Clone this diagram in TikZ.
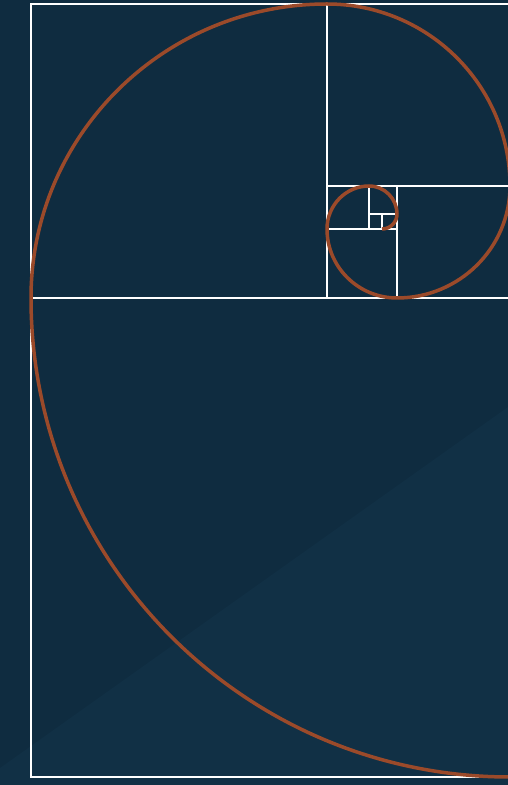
\documentclass[tikz,border=0pt]{standalone}
\definecolor{bgdark}{RGB}{15,44,64}
\definecolor{bglight}{RGB}{17,48,69}
\definecolor{spiral}{RGB}{155,74,42}
\tikzset{
  frame/.style={draw=white, line width=2.4pt},
  spiralline/.style={draw=spiral, line width=3.5pt},
}
\begin{document}
\begin{tikzpicture}[x=1pt,y=1pt]
\useasboundingbox (0,0) rectangle (508,785);
\fill[bgdark] (0,0) rectangle (508,785);
\fill[bglight] (0,0) -- (0,17) -- (508,378) -- (508,0) -- cycle;
\begin{scope}
\clip (0,0) rectangle (508,785);
% frame lines
\draw[frame] (31,8) rectangle (510,781);
\draw[frame] (31,487) -- (510,487);
\draw[frame] (327,781) -- (327,487);
\draw[frame] (327,599) -- (510,599);
\draw[frame] (397,599) -- (397,487);
\draw[frame] (327,556) -- (397,556);
\draw[frame] (369,599) -- (369,556);
\draw[frame] (369,571) -- (397,571);
\draw[frame] (382,571) -- (382,556);
% spiral
\draw[spiralline, line join=round]
  (510,8) arc[start angle=270, end angle=180, radius=479]
  arc[start angle=180, end angle=90, x radius=296, y radius=294]
  arc[start angle=90, end angle=0, x radius=183, y radius=182]
  arc[start angle=0, end angle=-90, x radius=113, y radius=112]
  arc[start angle=-90, end angle=-180, x radius=70, y radius=69]
  arc[start angle=180, end angle=90, x radius=42, y radius=43]
  arc[start angle=90, end angle=0, radius=28]
  arc[start angle=0, end angle=-90, radius=15];
\end{scope}
\end{tikzpicture}
\end{document}
